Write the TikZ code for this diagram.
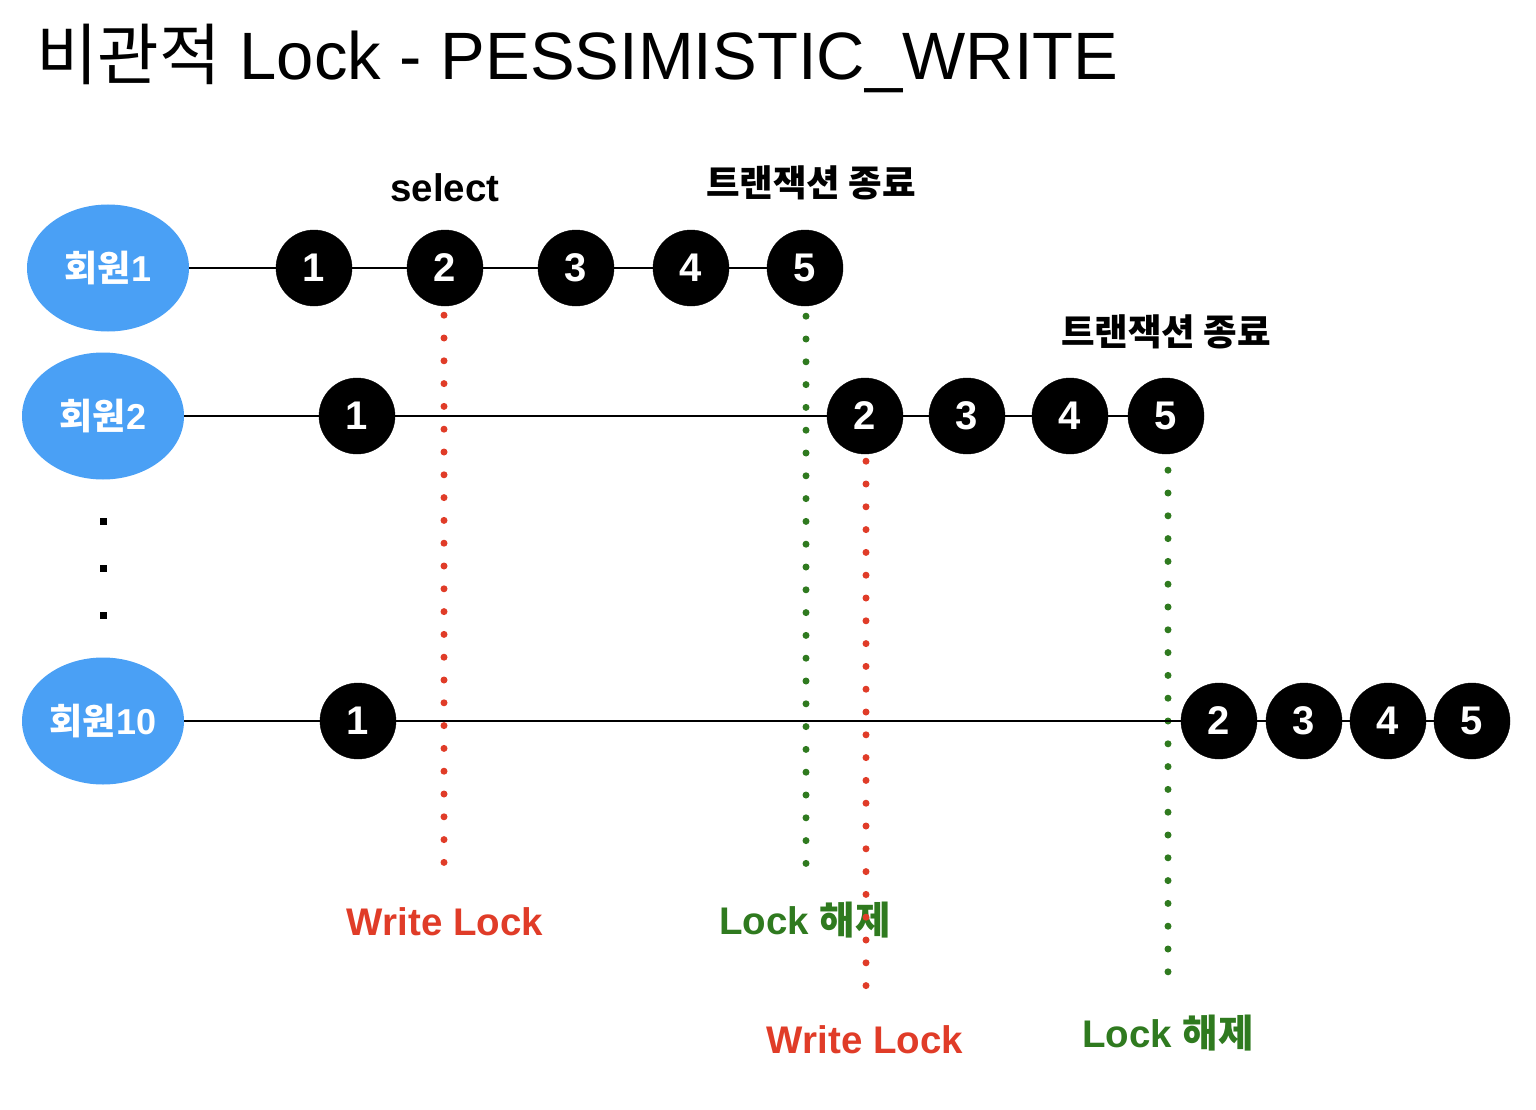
\documentclass[tikz,border=0pt]{standalone}
\usepackage{fontspec}
\setmainfont{Liberation Sans}
\newfontfamily\kr{Noto Sans CJK KR}
\usetikzlibrary{shapes.geometric}
\definecolor{memblue}{HTML}{4AA0F5}
\definecolor{lockred}{HTML}{E03C28}
\definecolor{lockgreen}{HTML}{2F7A1F}
\tikzset{
  num/.style={circle,fill=black,draw=black,minimum size=76pt,inner sep=0pt,text=white,font=\fontsize{40}{44}\selectfont\bfseries},
  member/.style={ellipse,fill=memblue,minimum width=162pt,minimum height=127pt,inner sep=0pt,text=white,font=\fontsize{36}{40}\selectfont\bfseries},
  tl/.style={line width=2.6pt,black},
  lbl/.style={font=\fontsize{38.5}{42}\selectfont\bfseries,inner sep=0pt},
  krlbl/.style={font=\kr\fontsize{36.5}{40}\selectfont\bfseries,inner sep=0pt},
  dotline/.style={line width=7pt,line cap=round,dash pattern=on 0pt off 22.8pt},
  sq/.style={fill=black,minimum size=7pt,inner sep=0pt}
}
\begin{document}
\begin{tikzpicture}[x=1pt,y=-1pt]
\useasboundingbox (0,0) rectangle (1536,1110);
% title
\node[anchor=base west,inner sep=0pt,font=\fontsize{67}{71}\selectfont] (title) at (36,80) {{\kr 비관적} Lock - PESSIMISTIC\_WRITE};
% row 1
\node[member] (m1) at (108,268) {{\kr\bfseries 회원}1};
\node[num] (a1) at (314,268) {1};
\node[num] (a2) at (445,268) {2};
\node[num] (a3) at (576,268) {3};
\node[num] (a4) at (691,268) {4};
\node[num] (a5) at (805,268) {5};
\draw[tl] (m1) -- (a1) (a1) -- (a2) (a2) -- (a3) (a3) -- (a4) (a4) -- (a5);
% row 2
\node[member] (m2) at (103,416) {{\kr\bfseries 회원}2};
\node[num] (b1) at (357,416) {1};
\node[num] (b2) at (865,416) {2};
\node[num] (b3) at (967,416) {3};
\node[num] (b4) at (1070,416) {4};
\node[num] (b5) at (1166,416) {5};
% row 10
\node[member] (m10) at (103,721) {{\kr\bfseries 회원}10};
\node[num] (c1) at (358,721) {1};
\node[num] (c2) at (1219,721) {2};
\node[num] (c3) at (1304,721) {3};
\node[num] (c4) at (1388,721) {4};
\node[num] (c5) at (1472,721) {5};
% ellipsis dots
\node[sq] (d1) at (103,521) {};
\node[sq] (d2) at (103,568) {};
\node[sq] (d3) at (103,615) {};
% labels
\node[lbl] (sel) at (445,188) {select};
\node[krlbl] (end1) at (811,183) {트랜잭션 종료};
\node[krlbl] (end2) at (1166,332) {트랜잭션 종료};
\node[lbl,text=lockred] (wl1) at (445,922) {Write Lock};
\node[lbl,text=lockgreen] (lr1) at (805,920) {Lock {\kr\bfseries 해제}};
\node[lbl,text=lockred] (wl2) at (865,1040) {Write Lock};
\node[lbl,text=lockgreen] (lr2) at (1168,1033) {Lock {\kr\bfseries 해제}};
% dotted lines
\coordinate (r1e) at (444,868);
\coordinate (g1e) at (806,868);
\coordinate (r2e) at (866,992);
\coordinate (g2e) at (1168,980);
\draw[dotline,lockred] ([yshift=-9pt]a2.south -| r1e) -- (r1e);
\draw[dotline,lockgreen] ([yshift=-10pt]a5.south -| g1e) -- (g1e);
\draw[dotline,lockred] ([yshift=-7pt]b2.south -| r2e) -- (r2e);
\draw[dotline,lockgreen] ([yshift=-16pt]b5.south -| g2e) -- (g2e);
% timelines on top of dotted lines
\draw[tl] (m2) -- (b1) (b1) -- (b2) (b2) -- (b3) (b3) -- (b4) (b4) -- (b5);
\draw[tl] (m10) -- (c1) (c1) -- (c2) (c2) -- (c3) (c3) -- (c4) (c4) -- (c5);
\end{tikzpicture}
\end{document}
